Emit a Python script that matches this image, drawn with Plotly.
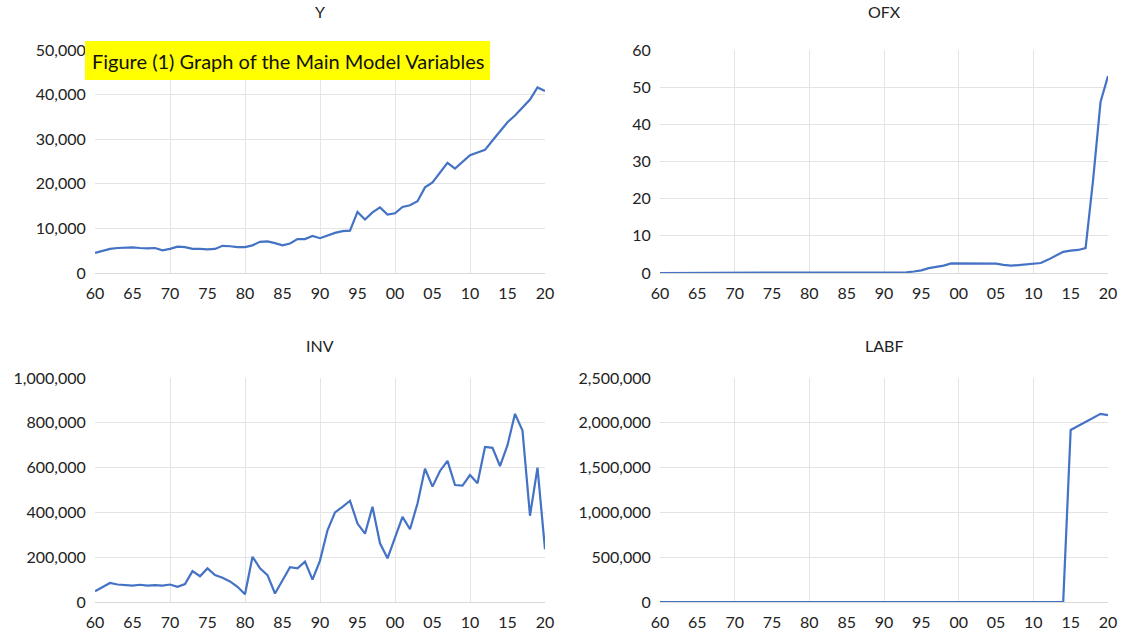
import plotly.graph_objects as go

years = list(range(1960, 2021))

y_vals = [4500, 4900, 5400, 5600, 5700, 5750, 5600, 5500, 5600, 5100,
          5400, 5900, 5800, 5400, 5400, 5300, 5400, 6100, 6000, 5800,
          5800, 6200, 7000, 7100, 6700, 6200, 6600, 7600, 7600, 8300,
          7800, 8400, 9000, 9400, 9500, 13700, 12000, 13600, 14700, 13100,
          13400, 14800, 15200, 16100, 19200, 20300, 22500, 24700, 23400, 24900,
          26400, 27000, 27600, 29700, 31700, 33800, 35300, 37000, 38900, 41600,
          40800]

ofx_vals = [0.0] * 31 + [0.05, 0.1, 0.2, 0.4, 0.7, 1.3, 1.6, 2.0, 2.6,
                         2.6, 2.6, 2.65, 2.7, 2.6, 2.5, 2.2, 2.0, 2.1, 2.3,
                         2.3, 2.7, 3.6, 4.7, 5.7, 6.0, 6.2, 6.7, 25.0, 46.0,
                         53.0]

inv_vals = [48000, 65000, 85000, 78000, 76000, 73000, 77000, 73000, 75000, 73000,
            78000, 68000, 80000, 138000, 115000, 150000, 120000, 108000, 92000, 68000,
            35000, 202000, 150000, 120000, 38000, 98000, 155000, 150000, 180000, 100000,
            185000, 320000, 400000, 425000, 452000, 350000, 305000, 425000, 262000, 195000,
            290000, 380000, 325000, 440000, 595000, 515000, 585000, 630000, 522000, 520000,
            567000, 530000, 692000, 688000, 607000, 700000, 840000, 765000, 385000, 600000,
            235000]

labf_vals = [0] * 55 + [1920000, 1965000, 2010000, 2055000, 2100000, 2085000]

tick_years = list(range(1960, 2021, 5))
tick_labels = ["60", "65", "70", "75", "80", "85", "90", "95",
               "00", "05", "10", "15", "20"]
grid_years = [1970, 1980, 1990, 2000, 2010]

panels = [
    ("Y", y_vals, [0, 50000], 10000),
    ("OFX", ofx_vals, [0, 60], 10),
    ("INV", inv_vals, [0, 1000000], 200000),
    ("LABF", labf_vals, [0, 2500000], 500000),
]

W, H = 1126, 632
xdom_px = [(95, 545), (660, 1108), (95, 545), (660, 1108)]
ydom_px = [(50, 273), (50, 273), (378, 602), (378, 602)]

fig = go.Figure()
FONT = "Lato, 'Open Sans', sans-serif"
GRID = "#e4e4e4"
annotations = []

for i, (name, vals, yr, dt) in enumerate(panels):
    n = "" if i == 0 else str(i + 1)
    fig.add_trace(go.Scatter(x=years, y=vals, mode="lines",
                             line=dict(color="#4472C4", width=2.2),
                             xaxis="x" + n, yaxis="y" + n, showlegend=False))
    x0, x1 = xdom_px[i]
    yt, yb = ydom_px[i]
    fig.update_layout(**{
        "xaxis" + n: dict(domain=[x0 / W, x1 / W], range=[1960, 2020],
                          anchor="y" + n, tickvals=tick_years, ticktext=tick_labels,
                          showgrid=False, zeroline=False, showline=False,
                          automargin=False,
                          ticks="outside", ticklen=6, tickcolor="rgba(0,0,0,0)",
                          tickfont=dict(size=16, color="#222", family=FONT),
                          minor=dict(tickvals=grid_years, showgrid=True,
                                     gridcolor=GRID, gridwidth=1, ticks="")),
        "yaxis" + n: dict(domain=[(H - yb) / H, (H - yt) / H], range=yr,
                          anchor="x" + n, dtick=dt, tickformat=",d",
                          automargin=False,
                          showgrid=True, gridcolor=GRID, gridwidth=1,
                          zeroline=True, zerolinecolor="#d9d9d9", zerolinewidth=1,
                          showline=False, ticks="outside", ticklen=5,
                          tickcolor="rgba(0,0,0,0)",
                          tickfont=dict(size=16, color="#222", family=FONT)),
    })
    annotations.append(dict(text=name, xref="paper", yref="paper",
                            x=(x0 + x1) / 2 / W, y=(H - (12 if i < 2 else 345)) / H,
                            showarrow=False, xanchor="center", yanchor="middle",
                            font=dict(size=16, color="#222", family=FONT)))

annotations.append(dict(text="Figure (1) Graph of the Main Model Variables",
                        xref="paper", yref="paper", x=288 / W, y=(H - 61) / H,
                        showarrow=False, xanchor="center", yanchor="middle",
                        font=dict(size=20, color="#111", family=FONT)))

fig.update_layout(
    width=W, height=H, margin=dict(l=0, r=0, t=0, b=0, autoexpand=False),
    paper_bgcolor="white", plot_bgcolor="white",
    annotations=annotations,
    shapes=[dict(type="rect", xref="paper", yref="paper",
                 x0=85 / W, x1=490 / W, y0=(H - 80) / H, y1=(H - 41) / H,
                 fillcolor="#FFFF00", line=dict(width=0), layer="above")],
)

fig.write_html("out.html", config={"displayModeBar": False},
               post_script="document.body.style.margin='0';"
                           "document.body.style.overflow='hidden';")
